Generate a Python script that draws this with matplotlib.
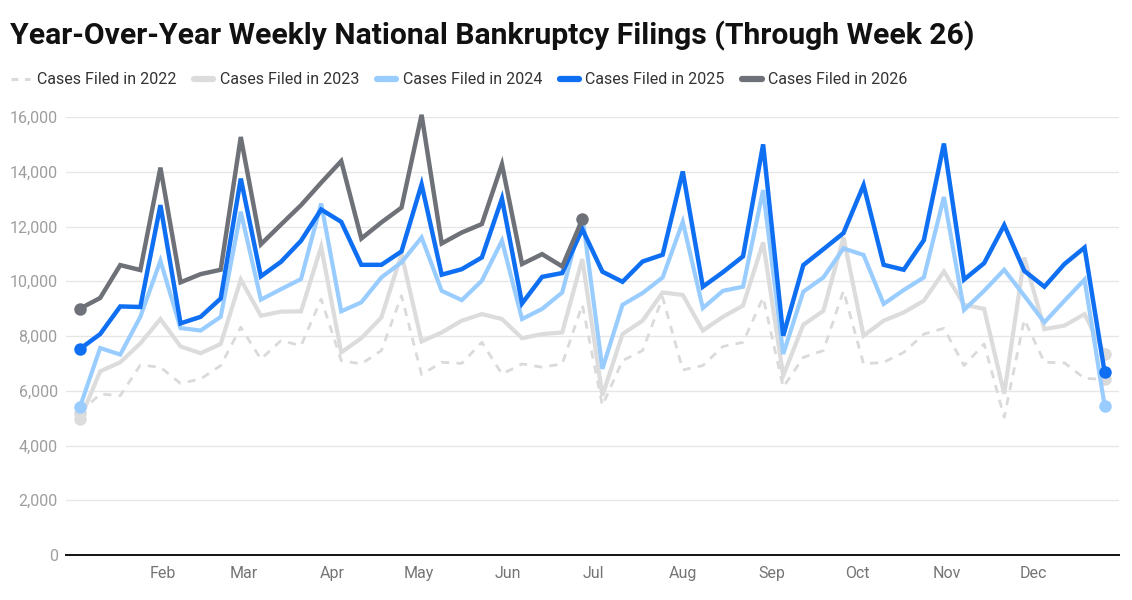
import numpy as np
import pandas as pd
import matplotlib
matplotlib.use("Agg")
import matplotlib.pyplot as plt
import matplotlib.dates as mdates
from matplotlib.lines import Line2D

# Casos semanales (semanas 1-52); 2026 solo hasta la semana 26
cases_2022 = [5200, 5880, 5820, 6940, 6860, 6270, 6430, 6920, 8320, 7160,
              7830, 7650, 9350, 7100, 6980, 7470, 9470, 6590, 7040, 7000,
              7770, 6610, 6980, 6860, 6980, 9140, 5460, 7100, 7470, 9410,
              6760, 6920, 7620, 7770, 9410, 6130, 7220, 7470, 9650, 6980,
              7040, 7400, 8070, 8280, 6920, 7710, 5030, 8600, 7040, 7020,
              6450, 6420]
cases_2023 = [4950, 6710, 7040, 7730, 8620, 7620, 7370, 7710, 10060, 8740,
              8890, 8900, 11260, 7400, 7920, 8680, 10990, 7800, 8130, 8560,
              8800, 8620, 7920, 8070, 8130, 10810, 5820, 8070, 8560, 9590,
              9500, 8200, 8700, 9110, 11420, 6550, 8410, 8920, 11600, 8010,
              8560, 8860, 9290, 10360, 9140, 8990, 5890, 10870, 8250, 8380,
              8800, 7350]
cases_2024 = [5420, 7560, 7320, 8700, 10750, 8290, 8200, 8700, 12540, 9330,
              9710, 10080, 12840, 8900, 9230, 10140, 10690, 11600, 9650, 9310,
              10020, 11480, 8620, 8990, 9590, 12410, 6800, 9140, 9570, 10140,
              12170, 9020, 9650, 9800, 13330, 7340, 9620, 10140, 11200, 10960,
              9170, 9680, 10140, 13080, 8950, 9650, 10420, 9470, 8500, 9290,
              10060, 5440]
cases_2025 = [7530, 8070, 9080, 9060, 12780, 8460, 8700, 9370, 13750, 10180,
              10710, 11480, 12620, 12170, 10600, 10600, 11090, 13540, 10240, 10440,
              10870, 13020, 9190, 10160, 10300, 11900, 10350, 9980, 10720, 10970,
              14010, 9800, 10330, 10910, 15000, 8010, 10590, 11170, 11760, 13510,
              10600, 10420, 11500, 15030, 10060, 10660, 12050, 10380, 9800, 10630,
              11230, 6670]
cases_2026 = [9000, 9390, 10590, 10410, 14150, 9960, 10260, 10420, 15270, 11350,
              12070, 12780, 13600, 14390, 11560, 12150, 12690, 16080, 11380, 11780,
              12090, 14270, 10630, 10990, 10540, 12260]

labels = ["Cases Filed in 2022", "Cases Filed in 2023", "Cases Filed in 2024",
          "Cases Filed in 2025", "Cases Filed in 2026"]

# eje de fechas generico (año sin bisiesto)
weeks = pd.date_range("2025-01-03", periods=52, freq="7D")

plt.rcParams["font.family"] = ["Roboto", "DejaVu Sans"]

fig = plt.figure(figsize=(11.32, 6.0), dpi=100)
ax = fig.add_axes([66 / 1132, 1 - 555 / 600, (1119 - 66) / 1132, (555 - 117) / 600])

estilos = [
    dict(color="#dadada", lw=2.0, ls=(0, (2.9, 2.6))),
    dict(color="#dcdcdc", lw=3.0, ls="-"),
    dict(color="#99ccff", lw=3.0, ls="-"),
    dict(color="#0f6ff2", lw=3.2, ls="-"),
    dict(color="#6e7177", lw=3.2, ls="-"),
]
series = [cases_2022, cases_2023, cases_2024, cases_2025, cases_2026]

handles = []
for vals, st, lab in zip(series, estilos, labels):
    x = weeks[:len(vals)]
    ax.plot(x, vals, color=st["color"], lw=st["lw"], ls=st["ls"],
            solid_joinstyle="miter", clip_on=False)
    ax.plot([x[0], x[-1]], [vals[0], vals[-1]], "o", color=st["color"],
            ms=9, mec="none", clip_on=False)
    if st["ls"] == "-":
        handles.append(Line2D([], [], color=st["color"], lw=4.5,
                              solid_capstyle="round"))
    else:
        handles.append(Line2D([], [], color=st["color"], lw=2.2,
                              ls=(0, (2.2, 2.2))))

ax.set_ylim(0, 16000)
ax.set_xlim(weeks[0] - pd.Timedelta(days=4.9), weeks[0] + pd.Timedelta(days=362))
ax.set_yticks(np.arange(0, 16001, 2000))
ax.yaxis.set_major_formatter(matplotlib.ticker.FuncFormatter(lambda v, p: f"{int(v):,}"))
ax.xaxis.set_major_locator(mdates.MonthLocator(bymonth=range(2, 13)))
ax.xaxis.set_major_formatter(mdates.DateFormatter("%b"))
ax.grid(axis="y", color="#e6e6e6", lw=1)
ax.set_axisbelow(True)
for s in ["top", "right", "left"]:
    ax.spines[s].set_visible(False)
ax.spines["bottom"].set_color("#111111")
ax.spines["bottom"].set_linewidth(1.4)
ax.tick_params(axis="y", length=0, pad=6, labelsize=11.5, labelcolor="#9e9e9e")
ax.tick_params(axis="x", length=0, pad=8, labelsize=11.5, labelcolor="#757575")

fig.text(10 / 1132, 1 - 36 / 600,
         "Year-Over-Year Weekly National Bankruptcy Filings (Through Week 26)",
         fontsize=21.7, fontweight="bold", va="center", ha="left", color="#111111")

fig.legend(handles, labels, loc="center left", bbox_to_anchor=(3 / 1132, 1 - 80 / 600),
           ncol=5, frameon=False, fontsize=11.5, handlelength=1.2,
           handletextpad=0.42, columnspacing=1.1, borderpad=0, labelcolor="#333333")

fig.savefig("out.png", dpi=100)
